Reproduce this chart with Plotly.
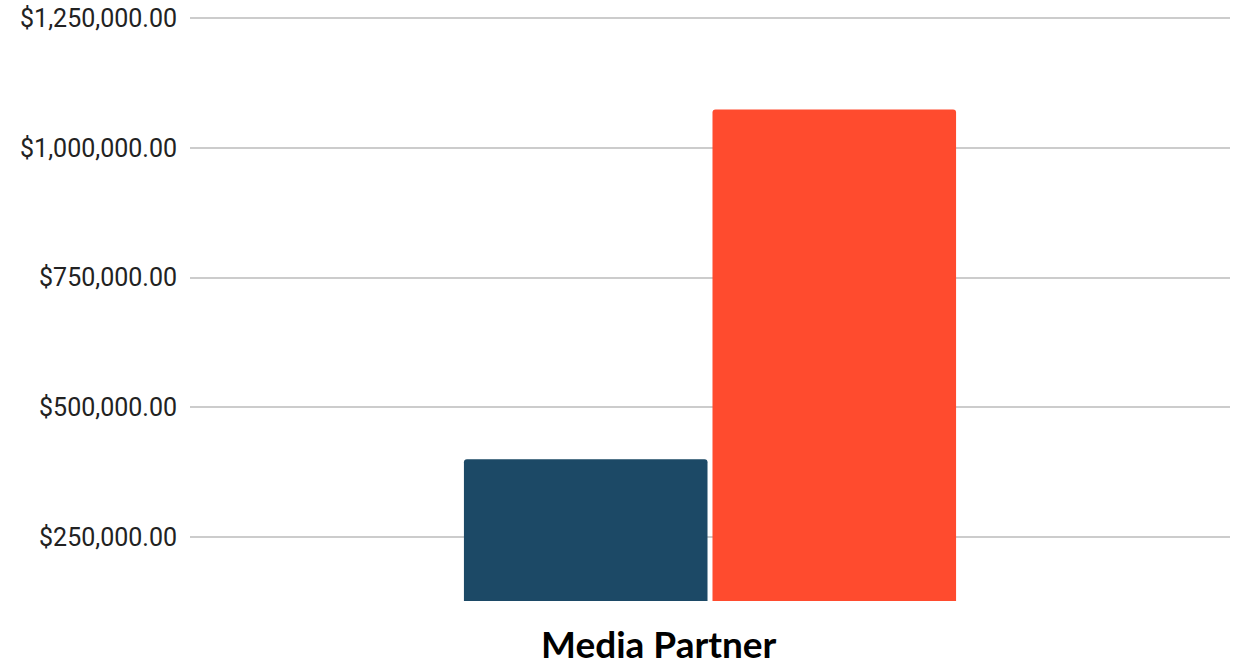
import plotly.graph_objects as go

categories = ["Media Partner"]
series_names = ["Series A", "Series B"]
series_a = [400000]
series_b = [1074000]
series_colors = ["#1c4966", "#ff4b2e"]
tick_values = [250000, 500000, 750000, 1000000, 1250000]
tick_labels = ["$250,000.00", "$500,000.00", "$750,000.00", "$1,000,000.00", "$1,250,000.00"]

fig = go.Figure()
for name, vals, color in zip(series_names, [series_a, series_b], series_colors):
    fig.add_trace(go.Bar(x=categories, y=vals, name=name, marker_color=color,
                         marker_line_width=0))

fig.update_layout(
    width=1240, height=665,
    margin=dict(l=190, r=10, t=16, b=64, autoexpand=False),
    paper_bgcolor="white", plot_bgcolor="white",
    barmode="group", bargap=0.522, bargroupgap=0.02,
    barcornerradius=3,
    showlegend=False,
    font=dict(family="Roboto", color="#222222"),
)
fig.update_xaxes(showticklabels=False, showgrid=False, zeroline=False, showline=False,
                 automargin=False)
fig.update_yaxes(range=[127200, 1254000], tickvals=tick_values, ticktext=tick_labels,
                 tickfont=dict(family="Roboto", size=25, color="#222222"),
                 showgrid=True, gridcolor="#cccccc", gridwidth=2, zeroline=False,
                 ticks="", ticklabelstandoff=12, automargin=False,
                 ticklabeloverflow="allow")
fig.add_annotation(text="<b>Media Partner</b>", xref="paper", yref="paper",
                   x=0.4514, y=-0.03, xanchor="center", yanchor="top", showarrow=False,
                   font=dict(family="Lato", size=37, color="#000000"))

fig.write_html("out.html")
